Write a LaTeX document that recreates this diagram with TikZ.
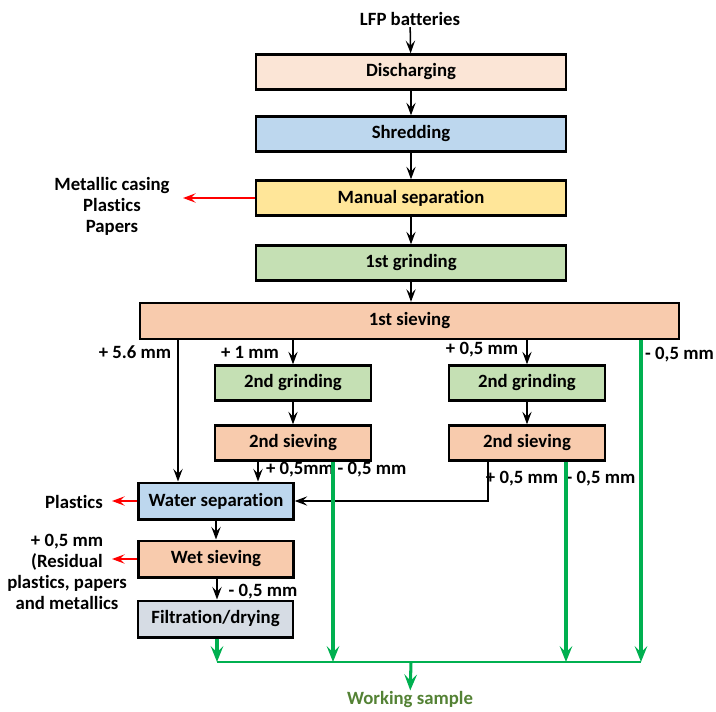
\documentclass[tikz,border=0pt]{standalone}
\usepackage{fontspec}
\setmainfont{Carlito}[Ligatures=NoCommon]
\usetikzlibrary{arrows.meta, positioning}
\definecolor{dischcolor}{RGB}{251,229,214}
\definecolor{shredcolor}{RGB}{189,215,238}
\definecolor{manualcolor}{RGB}{255,230,153}
\definecolor{grindcolor}{RGB}{197,224,180}
\definecolor{sievecolor}{RGB}{248,203,173}
\definecolor{filtcolor}{RGB}{214,220,228}
\definecolor{flowgreen}{RGB}{0,176,80}
\definecolor{samplecolor}{RGB}{84,130,53}

\begin{document}
\begin{tikzpicture}[
    x=0.3mm, y=-0.3mm,
    font=\fontsize{16}{19}\selectfont\bfseries,
    stage/.style={draw, line width=2pt, minimum width=93mm, minimum height=10.5mm, inner sep=0pt},
    smallstage/.style={draw, line width=2pt, minimum width=46.8mm, minimum height=10.5mm, inner sep=0pt},
    sidestage/.style={draw, line width=2pt, minimum width=46.5mm, minimum height=11mm, inner sep=0pt},
    lbl/.style={inner sep=1pt, align=center},
    multi/.style={inner sep=1pt, align=center, font=\fontsize{16}{17.9}\selectfont\bfseries},
    arrow/.style={-{Stealth[length=3.8mm, width=2.8mm, inset=1.5mm]}, line width=1.3pt},
    redarrow/.style={-{Stealth[length=3.8mm, width=2.8mm, inset=1.5mm]}, line width=1.3pt, red},
    greenarrow/.style={-{Stealth[length=4.8mm, width=3.8mm, inset=1.9mm]}, line width=2.6pt, flowgreen},
    greenline/.style={line width=1.9pt, flowgreen}
]
    \useasboundingbox (0,0) rectangle (716,711);

    % Main line
    \node[lbl] (lfp) at (410,19) {LFP batteries};
    \node[stage, fill=dischcolor] (disch) at (411,72) {Discharging};
    \node[stage, fill=shredcolor] (shred) at (411,134) {Shredding};
    \node[stage, fill=manualcolor] (manual) at (411,198) {Manual separation};
    \node[stage, fill=grindcolor] (grindA) at (411,263) {1st grinding};
    \node[draw, line width=2pt, minimum width=161.7mm, minimum height=10.8mm, inner sep=0pt, fill=sievecolor] (sieveA) at (409.5,321) {1st sieving};

    % Second stage
    \node[smallstage, fill=grindcolor] (grindL) at (293,383) {2nd grinding};
    \node[smallstage, fill=sievecolor] (sieveL) at (293,443) {2nd sieving};
    \node[smallstage, fill=grindcolor] (grindR) at (527,383) {2nd grinding};
    \node[smallstage, fill=sievecolor] (sieveR) at (527,443) {2nd sieving};

    % Wet route
    \node[sidestage, fill=shredcolor] (water) at (216,501) {Water separation};
    \node[sidestage, fill=sievecolor] (wet) at (216,559) {Wet sieving};
    \node[sidestage, fill=filtcolor] (filt) at (215.5,619) {Filtration/drying};

    % Rejects
    \node[multi] (casing) at (112,206) {Metallic casing\\Plastics\\Papers};
    \node[lbl] (plastics) at (74,502) {Plastics};
    \node[multi] (residual) at (67,572) {+ 0,5 mm\\(Residual\\plastics, papers\\and metallics};
    \coordinate (casingend) at (183,198);
    \coordinate (plasticsend) at (112,501);
    \coordinate (residualend) at (112,559);

    % Size labels
    \node[lbl] (l56) at (135,352) {+ 5.6 mm};
    \node[lbl] (l1) at (250,352) {+ 1 mm};
    \node[lbl] (l05a) at (482,350) {+ 0,5 mm};
    \node[lbl, anchor=east, inner sep=0pt] (lfine) at (714,355) {- 0,5 mm};
    \node[lbl] (lLp) at (300,470) {+ 0,5mm};
    \node[lbl] (lLm) at (372,470) {- 0,5 mm};
    \node[lbl] (lRp) at (522,479) {+ 0,5 mm};
    \node[lbl] (lRm) at (601,479) {- 0,5 mm};
    \node[lbl] (lwet) at (263,592) {- 0,5 mm};
    \node[lbl, text=samplecolor] (work) at (410,700) {Working sample};

    % Split points
    \coordinate (x56) at (178,0);
    \coordinate (xL) at (258,0);
    \coordinate (xR) at (488,0);
    \coordinate (c1) at (217,662);
    \coordinate (c2) at (333,662);
    \coordinate (c3) at (566,662);
    \coordinate (c4) at (641,662);
    \coordinate (cm) at (411,662);

    % Main flow
    \draw[arrow] (lfp) -- (disch);
    \draw[arrow] (disch) -- (shred);
    \draw[arrow] (shred) -- (manual);
    \draw[arrow] (manual) -- (grindA);
    \draw[arrow] (grindA.south) -- (grindA.south |- sieveA.north);
    \draw[redarrow] (manual) -- (casingend);

    % From 1st sieving
    \draw[arrow] (sieveA.south -| x56) -- (water.north -| x56);
    \draw[arrow] (sieveA.south -| grindL) -- (grindL);
    \draw[arrow] (sieveA.south -| grindR) -- (grindR);
    \draw[arrow] (grindL) -- (sieveL);
    \draw[arrow] (grindR) -- (sieveR);
    \draw[arrow] (sieveL.south -| xL) -- (water.north -| xL);
    \draw[arrow] (sieveR.south -| xR) |- (water.east);

    % Wet route
    \draw[arrow] (water) -- (wet);
    \draw[arrow] (wet.south -| c1) -- (filt.north -| c1);
    \draw[redarrow] (water) -- (plasticsend);
    \draw[redarrow] (wet) -- (residualend);

    % Fine fractions
    \draw[greenarrow] (filt.south -| c1) -- (c1);
    \draw[greenarrow] (sieveL.south -| c2) -- (c2);
    \draw[greenarrow] (sieveR.south -| c3) -- (c3);
    \draw[greenarrow] (sieveA.south -| c4) -- (c4);
    \draw[greenline] (c1) -- (c4);
    \draw[greenarrow] (cm) -- (work);
\end{tikzpicture}
\end{document}
